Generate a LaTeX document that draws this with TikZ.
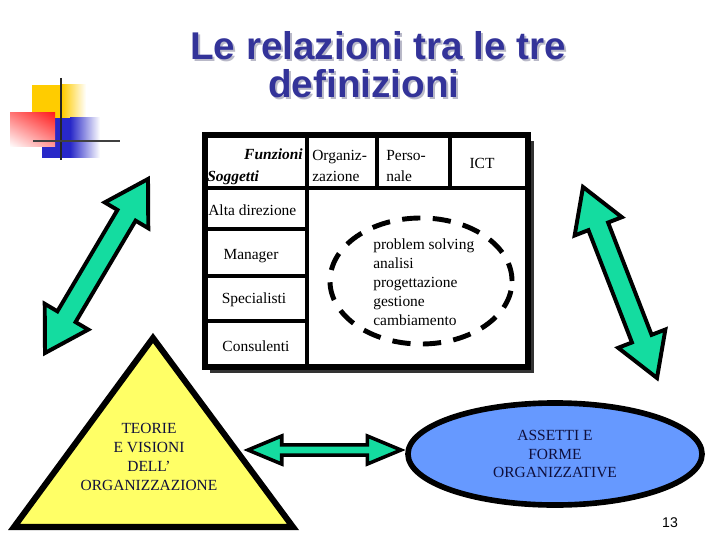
\documentclass[tikz,border=0pt]{standalone}
\usepackage{fontspec}
\setmainfont{Liberation Serif}
\newfontfamily\titlefont{Liberation Sans}
\usetikzlibrary{calc,shapes.geometric,shadings}

\definecolor{titleblue}{RGB}{51,51,153}
\definecolor{titleshade}{RGB}{185,185,200}
\definecolor{arrowgreen}{RGB}{20,220,160}
\definecolor{triyellow}{RGB}{255,255,102}
\definecolor{ellblue}{RGB}{102,153,255}
\definecolor{darktext}{RGB}{15,15,60}
\definecolor{logoyellow}{RGB}{255,204,0}
\definecolor{logoblue}{RGB}{40,40,200}
\definecolor{logored}{RGB}{255,30,30}

% double block arrow between two named points
\newcommand{\blockarrow}[6][greenarrow]{%
\draw[#1] (#2)
 -- ($(#2)!#6!(#3)!#5!90:(#3)$) -- ($(#2)!#6!(#3)!#4!90:(#3)$)
 -- ($(#3)!#6!(#2)!#4!-90:(#2)$) -- ($(#3)!#6!(#2)!#5!-90:(#2)$)
 -- (#3)
 -- ($(#3)!#6!(#2)!#5!90:(#2)$) -- ($(#3)!#6!(#2)!#4!90:(#2)$)
 -- ($(#2)!#6!(#3)!#4!-90:(#3)$) -- ($(#2)!#6!(#3)!#5!-90:(#3)$)
 -- cycle;}

\begin{document}
\begin{tikzpicture}[x=0.025cm,y=0.025cm,
  greenarrow/.style={draw=black,fill=arrowgreen,line width=2.8pt,line join=miter},
  thinarrow/.style={greenarrow,line width=2.5pt},
  cell/.style={font=\fontsize{11}{15}\selectfont,inner sep=0pt},
  tline/.style={line width=3.4pt},
  bigtext/.style={font=\fontsize{11}{13.5}\selectfont,text=darktext,align=center,inner sep=0pt}]
\useasboundingbox (0,0) rectangle (720,540);

% logo
\fill[logoyellow] (32,455) rectangle (62,422);
\shade[left color=logoyellow,right color=white] (62,455) rectangle (86,422);
\fill[logoblue] (42,422) rectangle (70,382);
\shade[left color=logoblue,right color=white] (70,422) rectangle (100,382);
\shade[upper right=logored,upper left=logored!60,lower left=white,lower right=logored!45] (10,427) rectangle (55,393);
\draw[line width=2pt,black!85] (61,462) -- (61,380);
\draw[line width=2pt,black!75] (33,399) -- (120,399);

% title
\node[anchor=base west,inner sep=0pt,text=titleshade,font=\titlefont\bfseries\fontsize{27.5}{33}\selectfont] at (192,478) {Le relazioni tra le tre};
\node[anchor=base west,inner sep=0pt,text=titleshade,font=\titlefont\bfseries\fontsize{27.5}{33}\selectfont] at (270,440) {definizioni};
\node (t1) [anchor=base west,inner sep=0pt,text=titleblue,font=\titlefont\bfseries\fontsize{27.5}{33}\selectfont] at (190,480) {Le relazioni tra le tre};
\node (t2) [anchor=base west,inner sep=0pt,text=titleblue,font=\titlefont\bfseries\fontsize{27.5}{33}\selectfont] at (268,442) {definizioni};

% table
\coordinate (tnw) at (205,405);
\coordinate (tse) at (528,173);
\fill[black!80] ($(tnw)+(5,-6)$) rectangle ($(tse)+(6,-6)$);
\draw[fill=white,line width=4pt] (tnw) rectangle (tse);
\draw[tline] (205,352) -- (528,352);
\draw[tline] (307,405) -- (307,173);
\draw[tline] (377,405) -- (377,352);
\draw[tline] (450,405) -- (450,352);
\draw[tline] (205,311) -- (307,311);
\draw[tline] (205,264) -- (307,264);
\draw[tline] (205,219) -- (307,219);

\node (fun) [cell,anchor=east] at (303,386) {\textbf{\textit{Funzioni}}};
\node (sog) [cell,anchor=west] at (207,362) {\textbf{\textit{Soggetti}}};
\node (org) [cell,anchor=west,align=left] at (312,374) {Organiz-\\zazione};
\node (per) [cell,anchor=west,align=left] at (386,374) {Perso-\\nale};
\node (ict) [cell] at (482,377) {ICT};
\node (alta) [cell,anchor=west] at (208,330) {Alta direzione};
\node (man) [cell] at (251,284) {Manager};
\node (spe) [cell] at (254,240) {Specialisti};
\node (con) [cell] at (256,194) {Consulenti};

\draw[line width=3.5pt,dash pattern=on 13pt off 8.8pt] (421,259) ellipse [x radius=2.275cm,y radius=1.575cm];
\node (att) [cell,anchor=west,align=left,font=\fontsize{11}{13.5}\selectfont] at (373,258) {problem solving\\analisi\\progettazione\\gestione\\cambiamento};

% triangle and ellipse
\coordinate (tt) at (153,202);
\coordinate (tl) at (14,13);
\coordinate (tr) at (293,13);
\draw[fill=triyellow,line width=4.3pt,line join=miter] (tt) -- (tl) -- (tr) -- cycle;
\node (teorie) [bigtext] at (149,83) {TEORIE\\E VISIONI\\DELL’\\ORGANIZZAZIONE};

\node (assetti) [bigtext,ellipse,draw=black,fill=ellblue,line width=4pt,minimum width=7.35cm,minimum height=2.55cm] at (555,86) {ASSETTI E\\FORME\\ORGANIZZATIVE};

% arrows
\coordinate (la) at (45,187);
\coordinate (lb) at (148,361);
\coordinate (ra) at (583,353);
\coordinate (rb) at (657,162);
\coordinate (ha) at (248,90);
\coordinate (hb) at (401,90);
\blockarrow{la}{lb}{7.5pt}{18pt}{30pt}
\blockarrow{ra}{rb}{7.5pt}{18pt}{30pt}
\blockarrow[thinarrow]{ha}{hb}{3.7pt}{10pt}{24pt}

\node (num) [font=\titlefont\fontsize{10}{12}\selectfont] at (670,17) {13};
\end{tikzpicture}
\end{document}
